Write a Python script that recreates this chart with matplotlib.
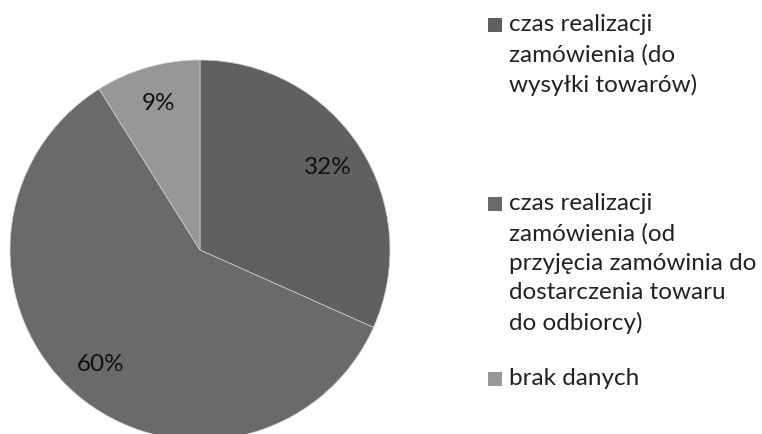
import matplotlib.pyplot as plt
from matplotlib.patches import Rectangle

# dane z wykresu
etykiety = ['czas realizacji\nzamówienia (do\nwysyłki towarów)',
            'czas realizacji\nzamówienia (od\nprzyjęcia zamówinia do\ndostarczenia towaru\ndo odbiorcy)',
            'brak danych']
wartosci = [32, 60, 9]
procenty = ['32%', '60%', '9%']
kolory = ['#606060', '#6a6a6a', '#979797']

plt.rcParams['font.family'] = ['Lato', 'DejaVu Sans']

W, H = 762, 434
fig = plt.figure(figsize=(W / 100, H / 100), dpi=100)

# koło: środek (200, 250) px, promień ~190 px
r = 190
ax = fig.add_axes([(200 - r) / W, (H - 250 - r) / H, 2 * r / W, 2 * r / H])
it = iter(procenty)
wedges, _, autotexts = ax.pie(wartosci, colors=kolory, startangle=90, counterclock=False,
                              autopct=lambda p: next(it), pctdistance=0.8,
                              wedgeprops=dict(edgecolor='#d0d0d0', linewidth=0.5),
                              textprops=dict(fontsize=17.5, color='#111111'))
ax.set_xlim(-1, 1)
ax.set_ylim(-1, 1)
ax.set_aspect('auto')

# legenda rysowana ręcznie (górna krawędź kwadratu w px)
legenda_y = [18, 197, 372]
for y, lab, kol in zip(legenda_y, etykiety, kolory):
    fig.patches.append(Rectangle((488 / W, 1 - (y + 14) / H), 14 / W, 14 / H,
                                 transform=fig.transFigure, facecolor=kol, edgecolor='none'))
    fig.text(509 / W, 1 - (y - 4) / H, lab, fontsize=17.5, color='#222222',
             ha='left', va='top', linespacing=1.5)

fig.savefig('out.png', dpi=100)
